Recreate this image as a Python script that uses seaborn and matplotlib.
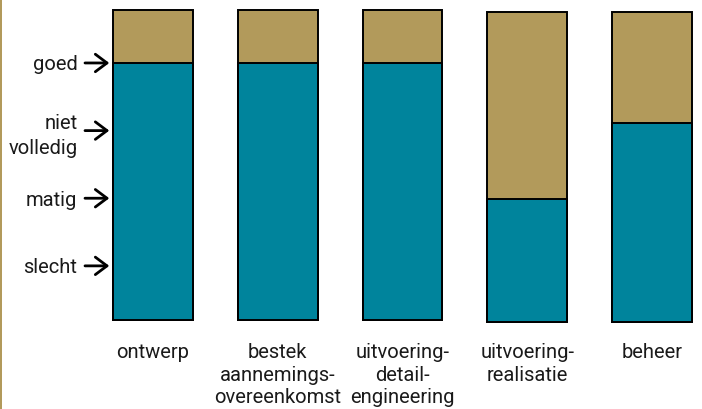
# staged quality chart: stacked bars with level arrows

import matplotlib
matplotlib.use("Agg")
from matplotlib import pyplot as plt
from matplotlib.patches import Rectangle
import seaborn as sns

# data
stages = ["ontwerp",
          "bestek\naannemings-\novereenkomst",
          "uitvoering-\ndetail-\nengineering",
          "uitvoering-\nrealisatie",
          "beheer"]
levels = [1, 2, 3, 4]
level_labels = ["slecht", "matig", "niet\nvolledig", "goed"]
bar_base = [0.2, 0.2, 0.2, 0.17, 0.17]
bar_top = [4.78, 4.78, 4.78, 4.75, 4.75]
score = [4.0, 4.0, 4.0, 1.99, 3.11]

TEAL = "#00849c"
TAN = "#b29a5b"
INK = "#1a1a1a"

sns.set_theme(style="white")
plt.rcParams["font.family"] = ["Roboto", "DejaVu Sans"]

fig = plt.figure(figsize=(7.02, 4.09), dpi=100)
ax = fig.add_axes([109.3 / 702, (409 - 333.5) / 409, 592.6 / 702, 331.4 / 409])

full_h = [t - b for t, b in zip(bar_top, bar_base)]
score_h = [s - b for s, b in zip(score, bar_base)]

bar_kws = dict(width=0.64, edgecolor="black", linewidth=1.4, saturation=1,
               errorbar=None, ax=ax)
sns.barplot(x=stages, y=full_h, bottom=bar_base, color=TAN, **bar_kws)
sns.barplot(x=stages, y=score_h, bottom=bar_base, color=TEAL, **bar_kws)

ax.set_xlim(-0.35, 4.4)
ax.set_ylim(0, 4.9)
ax.set_yticks(levels, level_labels)
ax.tick_params(axis="y", length=0, pad=23, labelsize=14.5, labelcolor=INK)
ax.tick_params(axis="x", length=0, pad=7, labelsize=14.5, labelcolor=INK)
for lab in ax.get_xticklabels():
    lab.set_linespacing(1.23)
for lab in ax.get_yticklabels():
    lab.set_linespacing(1.42)
sns.despine(ax=ax, left=True, bottom=True)

# arrows pointing at the levels
for lv in levels:
    ax.annotate("", xy=(0.0, lv), xycoords=ax.get_yaxis_transform(),
                xytext=(-17.5, 0), textcoords="offset points",
                arrowprops=dict(arrowstyle="->,head_length=0.6,head_width=0.45",
                                lw=2, color="black", shrinkA=0, shrinkB=0,
                                mutation_scale=14),
                annotation_clip=False)

# thin gold rule on the left edge
fig.add_artist(Rectangle((0, 0), 2 / 702, 1, transform=fig.transFigure,
                         color=TAN, lw=0))

fig.savefig("out.png", dpi=100)
